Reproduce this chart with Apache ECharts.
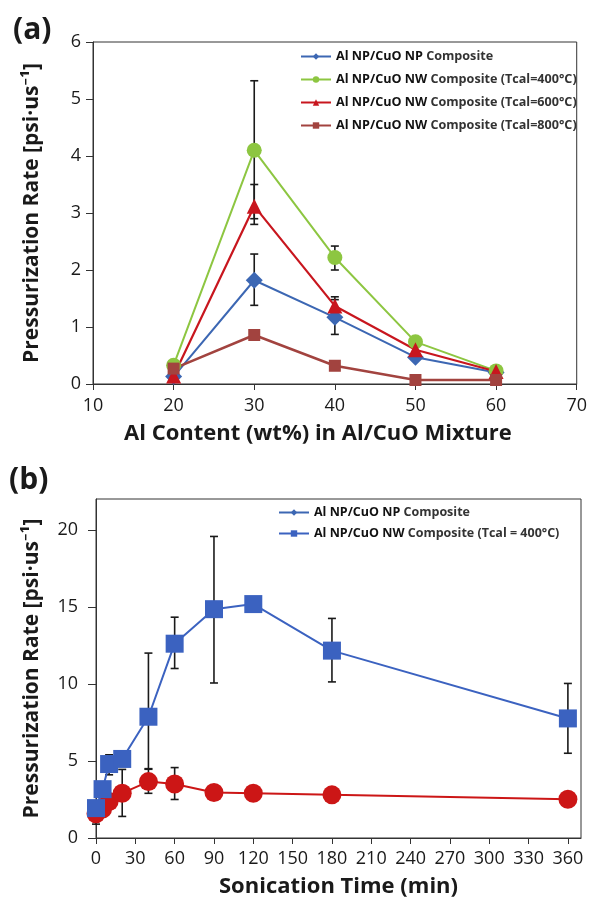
<!DOCTYPE html>
<html>
<head>
<meta charset="utf-8">
<script src="https://cdn.jsdelivr.net/npm/echarts@6/dist/echarts.min.js"></script>
<style>html,body{margin:0;padding:0;background:#fff;}#c{width:590px;height:900px;}</style>
</head>
<body>
<div id="c"></div>
<script>
// ---------- Panel (a) data ----------
const alContent = [20, 30, 40, 50, 60];
const npComposite = [0.13, 1.82, 1.17, 0.47, 0.20];
const nw400 = [0.33, 4.10, 2.22, 0.74, 0.23];
const nw600 = [0.14, 3.12, 1.37, 0.60, 0.22];
const nw800 = [0.27, 0.86, 0.32, 0.07, 0.07];
// error bars [x, low, high]
const errNP_a = [[30, 1.38, 2.28], [40, 0.87, 1.48]];
const err400_a = [[30, 2.90, 5.32], [40, 2.00, 2.42]];
const err600_a = [[30, 2.80, 3.50], [40, 1.22, 1.53]];
const namesA = ['Al NP/CuO NP Composite', 'Al NP/CuO NW Composite (Tcal=400°C)', 'Al NP/CuO NW Composite (Tcal=600°C)', 'Al NP/CuO NW Composite (Tcal=800°C)'];
const yTicksA = [0, 1, 2, 3, 4, 5, 6];
const xTicksA = [10, 20, 30, 40, 50, 60, 70];

// ---------- Panel (b) data ----------
const sonicTime = [0, 5, 10, 20, 40, 60, 90, 120, 180, 360];
const npB = [1.57, 1.88, 2.37, 2.91, 3.66, 3.51, 2.95, 2.91, 2.80, 2.52];
const nwB = [1.94, 3.17, 4.80, 5.13, 7.87, 12.61, 14.85, 15.18, 12.16, 7.76];
const errNP_b = [[0, 0.90, 2.25], [20, 1.40, 4.45], [40, 2.90, 4.50], [60, 2.50, 4.57]];
const errNW_b = [[10, 4.10, 5.40], [40, 4.46, 12.00], [60, 11.00, 14.33], [90, 10.06, 19.57], [180, 10.13, 14.25], [360, 5.50, 10.03]];
const namesB = ['Al NP/CuO NP Composite', 'Al NP/CuO NW Composite (Tcal = 400°C)'];
const yTicksB = [0, 5, 10, 15, 20];
const xTicksB = [0, 30, 60, 90, 120, 150, 180, 210, 240, 270, 300, 330, 360];

const FONT = '"Open Sans", "Noto Sans", sans-serif';
const TXT = '#1a1a1a';

function zip(xs, ys) { return xs.map((x, i) => [x, ys[i]]); }

function errRender(params, api) {
  const x = api.value(0), lo = api.value(1), hi = api.value(2);
  const pt = api.coord([x, hi]), pb = api.coord([x, lo]);
  const w = 4;
  const st = { stroke: '#1a1a1a', lineWidth: 1.6 };
  return {
    type: 'group',
    children: [
      { type: 'line', shape: { x1: pt[0], y1: pt[1], x2: pb[0], y2: pb[1] }, style: st },
      { type: 'line', shape: { x1: pt[0] - w, y1: pt[1], x2: pt[0] + w, y2: pt[1] }, style: st },
      { type: 'line', shape: { x1: pb[0] - w, y1: pb[1], x2: pb[0] + w, y2: pb[1] }, style: st }
    ]
  };
}

function legendFmt(name) {
  const i = name.indexOf(' Composite');
  return '{b|' + name.slice(0, i) + '}{n|' + name.slice(i) + '}';
}

const axisLineStyle = { show: true, lineStyle: { color: '#333', width: 1 } };

const option = {
  backgroundColor: '#fff',
  animation: false,
  textStyle: { fontFamily: FONT },
  graphic: [
    { type: 'text', left: 13, top: 15, style: { text: '(a)', font: 'bold 30px ' + FONT, fill: TXT } },
    { type: 'text', left: 9, top: 465, style: { text: '(b)', font: 'bold 30px ' + FONT, fill: TXT } }
  ],
  legend: [
    {
      data: namesA, orient: 'vertical', left: 300, top: 50, padding: 0,
      itemWidth: 30, itemHeight: 8, itemGap: 10,
      formatter: legendFmt,
      textStyle: {
        rich: {
          b: { fontFamily: FONT, fontSize: 12.6, fontWeight: 'bold', color: '#111', lineHeight: 16 },
          n: { fontFamily: FONT, fontSize: 12.6, fontWeight: 'bold', color: '#333', lineHeight: 16 }
        }
      }
    },
    {
      data: namesB, orient: 'vertical', left: 278, top: 506, padding: 0,
      itemWidth: 30, itemHeight: 8, itemGap: 8,
      formatter: legendFmt,
      textStyle: {
        rich: {
          b: { fontFamily: FONT, fontSize: 12.5, fontWeight: 'bold', color: '#111', lineHeight: 15 },
          n: { fontFamily: FONT, fontSize: 12.5, fontWeight: 'bold', color: '#333', lineHeight: 15 }
        }
      }
    }
  ],
  grid: [
    { left: 93, top: 42, width: 488, height: 342, show: true, borderColor: '#333', borderWidth: 1, containLabel: false },
    { left: 96, top: 499, width: 485, height: 339, show: true, borderColor: '#333', borderWidth: 1, containLabel: false }
  ],
  xAxis: [
    {
      gridIndex: 0, type: 'value', min: 10, max: 70, interval: 10,
      axisLine: axisLineStyle,
      axisTick: { show: true, inside: false, length: 6, lineStyle: { color: '#333' }, customValues: xTicksA },
      axisLabel: { color: TXT, fontSize: 18, margin: 13, fontFamily: FONT, customValues: xTicksA },
      splitLine: { show: false },
      name: 'Al Content (wt%) in Al/CuO Mixture', nameLocation: 'middle', nameGap: 39,
      nameTextStyle: { fontFamily: FONT, fontSize: 22, fontWeight: 'bold', color: TXT, padding: [0, 34, 0, 0] }
    },
    {
      gridIndex: 1, type: 'value', min: 0, max: 370, interval: 30,
      axisLine: axisLineStyle,
      axisTick: { show: true, inside: false, length: 6, lineStyle: { color: '#333' }, customValues: xTicksB },
      axisLabel: { color: TXT, fontSize: 18, margin: 12, fontFamily: FONT, customValues: xTicksB },
      splitLine: { show: false },
      name: 'Sonication Time (min)', nameLocation: 'middle', nameGap: 38,
      nameTextStyle: { fontFamily: FONT, fontSize: 22, fontWeight: 'bold', color: TXT }
    }
  ],
  yAxis: [
    {
      gridIndex: 0, type: 'value', min: 0, max: 6, interval: 1,
      axisLine: axisLineStyle,
      axisTick: { show: true, inside: false, length: 7, lineStyle: { color: '#333' }, customValues: yTicksA },
      axisLabel: { color: TXT, fontSize: 18, margin: 12, fontFamily: FONT, customValues: yTicksA },
      splitLine: { show: false },
      name: 'Pressurization Rate [psi·us⁻¹]', nameLocation: 'middle', nameGap: 50, nameRotate: 90,
      nameTextStyle: { fontFamily: FONT, fontSize: 21, fontWeight: 'bold', color: TXT }
    },
    {
      gridIndex: 1, type: 'value', min: 0, max: 22, interval: 5,
      axisLine: axisLineStyle,
      axisTick: { show: true, inside: false, length: 8, lineStyle: { color: '#333' }, customValues: yTicksB },
      axisLabel: { color: TXT, fontSize: 18, margin: 18, fontFamily: FONT, customValues: yTicksB },
      splitLine: { show: false },
      name: 'Pressurization Rate [psi·us⁻¹]', nameLocation: 'middle', nameGap: 53, nameRotate: 90,
      nameTextStyle: { fontFamily: FONT, fontSize: 21, fontWeight: 'bold', color: TXT }
    }
  ],
  series: [
    // error bars (a)
    { type: 'custom', xAxisIndex: 0, yAxisIndex: 0, renderItem: errRender, data: errNP_a, z: 1, silent: true },
    { type: 'custom', xAxisIndex: 0, yAxisIndex: 0, renderItem: errRender, data: err400_a, z: 1, silent: true },
    { type: 'custom', xAxisIndex: 0, yAxisIndex: 0, renderItem: errRender, data: err600_a, z: 1, silent: true },
    // lines (a)
    { name: namesA[0], type: 'line', xAxisIndex: 0, yAxisIndex: 0, data: zip(alContent, npComposite),
      symbol: 'diamond', symbolSize: 17, color: '#3C67B3', lineStyle: { width: 2, color: '#3C67B3' }, z: 3 },
    { name: namesA[1], type: 'line', xAxisIndex: 0, yAxisIndex: 0, data: zip(alContent, nw400),
      symbol: 'circle', symbolSize: 15, color: '#8DC641', lineStyle: { width: 2, color: '#8DC641' }, z: 3 },
    { name: namesA[2], type: 'line', xAxisIndex: 0, yAxisIndex: 0, data: zip(alContent, nw600),
      symbol: 'triangle', symbolSize: 15, color: '#C8161E', lineStyle: { width: 2.2, color: '#C8161E' }, z: 3 },
    { name: namesA[3], type: 'line', xAxisIndex: 0, yAxisIndex: 0, data: zip(alContent, nw800),
      symbol: 'rect', symbolSize: 12, color: '#A2433F', lineStyle: { width: 2.5, color: '#A2433F' }, z: 3 },
    // error bars (b)
    { type: 'custom', xAxisIndex: 1, yAxisIndex: 1, renderItem: errRender, data: errNP_b, z: 1, silent: true },
    { type: 'custom', xAxisIndex: 1, yAxisIndex: 1, renderItem: errRender, data: errNW_b, z: 1, silent: true },
    // lines (b)
    { name: namesB[0], type: 'line', xAxisIndex: 1, yAxisIndex: 1, data: zip(sonicTime, npB),
      symbol: 'circle', symbolSize: 19, color: '#CC1616', lineStyle: { width: 2, color: '#CC1616' }, z: 3 },
    { name: namesB[1], type: 'line', xAxisIndex: 1, yAxisIndex: 1, data: zip(sonicTime, nwB),
      symbol: 'rect', symbolSize: 18, color: '#3B62C0', lineStyle: { width: 2, color: '#3B62C0' }, z: 4 }
  ]
};

const chart = echarts.init(document.getElementById('c'), null, { renderer: 'canvas' });
chart.setOption(option);
</script>
</body>
</html>
